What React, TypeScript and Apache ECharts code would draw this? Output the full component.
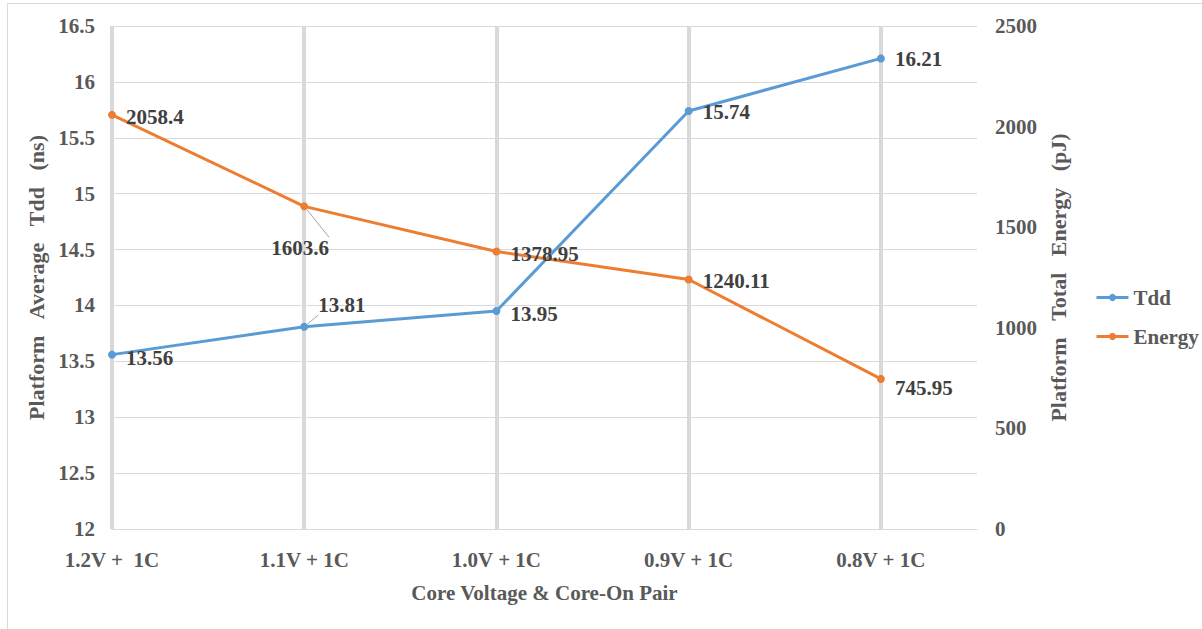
import React, { useEffect, useRef } from "react";
import * as echarts from "echarts";

const categories = ["1.2V +  1C", "1.1V + 1C", "1.0V + 1C", "0.9V + 1C", "0.8V + 1C"];
const tdd = [13.56, 13.81, 13.95, 15.74, 16.21];
const energy = [2058.4, 1603.6, 1378.95, 1240.11, 745.95];
const leftTicks = { min: 12, max: 16.5, interval: 0.5 };
const rightTicks = { min: 0, max: 2500, interval: 500 };
const xTitle = "Core Voltage & Core-On Pair";
const leftTitle = "Platform Average Tdd (ns)";
const rightTitle = "Platform Total Energy (pJ)";

// label placement (style only)
const tddLabelPos: any[] = [
  { position: "right", offset: [0, 3] },
  { position: "right", offset: [0, -22], line: true },
  { position: "right", offset: [0, 3] },
  { position: "right", offset: [0, 1] },
  { position: "right", offset: [0, 1] },
];
const energyLabelPos: any[] = [
  { position: "right", offset: [0, 2] },
  { position: "bottom", offset: [-4, 0], distance: 27, line: true },
  { position: "right", offset: [0, 2] },
  { position: "right", offset: [0, 2] },
  { position: "right", offset: [0, 9] },
];

const FONT = "'Liberation Serif', 'Times New Roman', serif";
const TICK_COLOR = "#595959";
const LABEL_COLOR = "#404040";
const GRID_COLOR = "#d9d9d9";

const spaced = (s: string, n: number) => s.split(" ").join("\u00a0".repeat(n));

function buildData(values: number[], pos: any[]) {
  return values.map((v, i) => ({
    value: [i, v],
    label: {
      position: pos[i].position,
      offset: pos[i].offset,
      distance: pos[i].distance ?? 10,
    },
    labelLine: pos[i].line
      ? { show: true, lineStyle: { color: "#a6a6a6", width: 1 } }
      : { show: false },
  }));
}

export default function App() {
  const ref = useRef<HTMLDivElement>(null);
  useEffect(() => {
    if (!ref.current) return;
    const chart = echarts.init(ref.current, undefined, { renderer: "svg" });
    const labelStyle = {
      show: true,
      fontFamily: FONT,
      fontWeight: "bold",
      fontSize: 21,
      color: LABEL_COLOR,
    };
    const titleStyle = { fontFamily: FONT, fontWeight: "bold", fontSize: 22, color: TICK_COLOR };
    chart.setOption({
      animation: false,
      backgroundColor: "#ffffff",
      graphic: [
        {
          type: "rect",
          shape: { x: 7.5, y: 3.5, width: 1200, height: 640 },
          style: { fill: "none", stroke: GRID_COLOR, lineWidth: 1 },
          silent: true,
        },
      ],
      grid: { left: 112, top: 26, right: 225, bottom: 100 },
      legend: {
        orient: "vertical",
        left: 1090,
        top: 282,
        itemWidth: 32,
        itemHeight: 9,
        itemGap: 18,
        lineStyle: { width: 3 },
        textStyle: { fontFamily: FONT, fontWeight: "bold", fontSize: 21, color: TICK_COLOR },
        data: ["Tdd", "Energy"],
      },
      xAxis: {
        type: "value",
        min: 0,
        max: 4.5,
        interval: 1,
        name: xTitle,
        nameLocation: "middle",
        nameGap: 53,
        nameTextStyle: { fontFamily: FONT, fontWeight: "bold", fontSize: 21, color: TICK_COLOR },
        axisLine: { show: true, lineStyle: { color: GRID_COLOR, width: 1 } },
        axisTick: { show: false },
        axisLabel: {
          margin: 20,
          fontFamily: FONT,
          fontWeight: "bold",
          fontSize: 21,
          color: TICK_COLOR,
          showMaxLabel: false,
          formatter: (v: number) => (Number.isInteger(v) ? categories[v] ?? "" : ""),
        },
        splitLine: {
          show: true,
          showMaxLine: false,
          lineStyle: { color: GRID_COLOR, width: 4 },
        },
      },
      yAxis: [
        {
          type: "value",
          position: "left",
          min: leftTicks.min,
          max: leftTicks.max,
          interval: leftTicks.interval,
          name: spaced(leftTitle, 3),
          nameLocation: "middle",
          nameRotate: 90,
          nameGap: 64,
          nameTextStyle: titleStyle,
          axisLine: { show: false },
          axisTick: { show: false },
          axisLabel: {
            margin: 17,
            fontFamily: FONT,
            fontWeight: "bold",
            fontSize: 21,
            color: TICK_COLOR,
          },
          splitLine: { show: true, lineStyle: { color: GRID_COLOR, width: 1 } },
        },
        {
          type: "value",
          position: "right",
          min: rightTicks.min,
          max: rightTicks.max,
          interval: rightTicks.interval,
          name: spaced(rightTitle, 3),
          nameLocation: "middle",
          nameRotate: 90,
          nameGap: 66,
          nameTextStyle: titleStyle,
          axisLine: { show: false },
          axisTick: { show: false },
          axisLabel: {
            margin: 18,
            fontFamily: FONT,
            fontWeight: "bold",
            fontSize: 21,
            color: TICK_COLOR,
            formatter: (v: number) => String(v),
          },
          splitLine: { show: false },
        },
      ],
      series: [
        {
          name: "Tdd",
          type: "line",
          yAxisIndex: 0,
          symbol: "circle",
          symbolSize: 8,
          color: "#5B9BD5",
          lineStyle: { width: 3, color: "#5B9BD5" },
          label: labelStyle,
          data: buildData(tdd, tddLabelPos),
        },
        {
          name: "Energy",
          type: "line",
          yAxisIndex: 1,
          symbol: "circle",
          symbolSize: 8,
          color: "#ED7D31",
          lineStyle: { width: 3, color: "#ED7D31" },
          label: labelStyle,
          data: buildData(energy, energyLabelPos),
        },
      ],
    });
    return () => chart.dispose();
  }, []);
  return (
    <div
      ref={ref}
      style={{ position: "absolute", left: 0, top: 0, width: 1202, height: 629 }}
    />
  );
}
